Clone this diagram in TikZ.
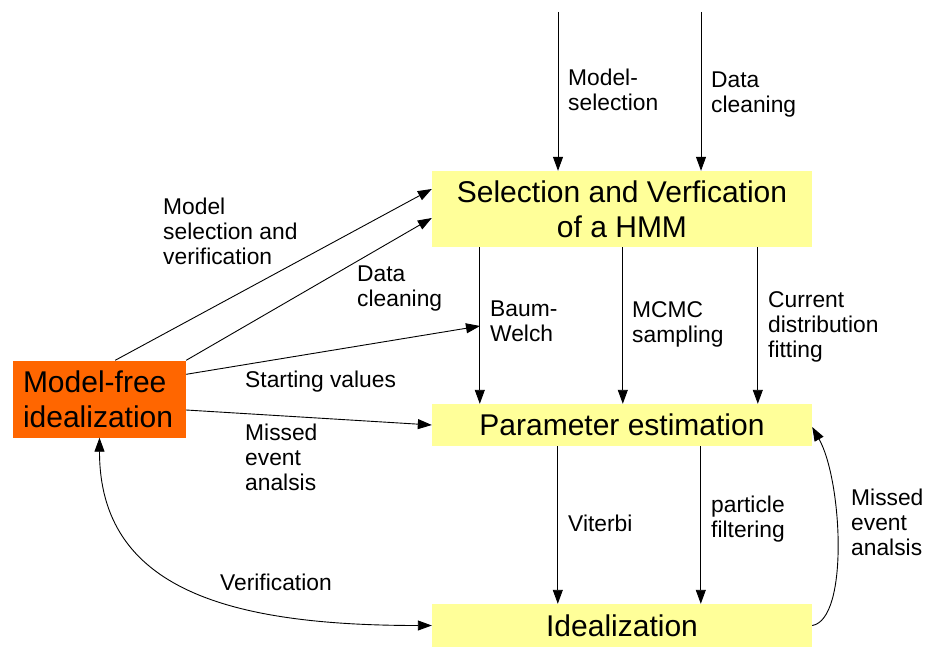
\documentclass[tikz,border=0pt]{standalone}
\usepackage{fontspec}
\setmainfont{Liberation Sans}
\usetikzlibrary{arrows.meta}

\definecolor{hmmyellow}{HTML}{FFFF99}
\definecolor{mforange}{HTML}{FF6600}

\tikzset{
  box/.style={fill=hmmyellow, minimum width=380pt, inner sep=0pt, align=center,
    font=\fontsize{30}{35}\selectfont},
  lbl/.style={anchor=north west, inner sep=0pt, align=left,
    font=\fontsize{22.8}{25}\selectfont},
  arr/.style={-{Triangle[length=14pt,width=10pt]}, line width=0.9pt},
  arrboth/.style={{Triangle[length=14pt,width=10pt]}-{Triangle[length=14pt,width=10pt]}, line width=0.9pt},
}

\begin{document}
\begin{tikzpicture}[x=1pt,y=-1pt]
  \useasboundingbox (0,0) rectangle (933,647);

  % boxes
  \node[box, minimum height=76pt] (sel) at (622,209) {Selection and Verfication\\of a HMM};
  \node[box, minimum height=42pt] (par) at (622,425) {Parameter estimation};
  \node[box, minimum height=43pt] (ide) at (622,625.5) {Idealization};
  \node[fill=mforange, minimum width=173pt, minimum height=77pt, text width=153pt,
    inner sep=0pt, align=left, font=\fontsize{30}{35}\selectfont] (mf) at (99.5,399)
    {Model-free\\idealization};

  % inputs from the top
  \coordinate (topa) at (558,12);
  \coordinate (topb) at (701,12);
  \draw[arr] (topa) -- (topa |- sel.north);
  \draw[arr] (topb) -- (topb |- sel.north);
  \node[lbl] (lmodsel) at (568,69) {Model-\\selection};
  \node[lbl] (ldatatop) at (711,72) {Data\\cleaning};

  % selection -> parameter estimation
  \foreach \dx in {48,191,326} {
    \draw[arr] ([xshift=\dx]sel.south west) -- ([xshift=\dx]par.north west);
  }
  \node[lbl] (lbaum) at (490,301) {Baum-\\Welch};
  \node[lbl] (lmcmc) at (632,301) {MCMC\\sampling};
  \node[lbl] (lcurr) at (768,291) {Current\\distribution\\fitting};

  % parameter estimation -> idealization
  \foreach \dx in {126,269} {
    \draw[arr] ([xshift=\dx]par.south west) -- ([xshift=\dx]ide.north west);
  }
  \node[lbl] (lvit) at (568,515) {Viterbi};
  \node[lbl] (lpart) at (711,496) {particle\\filtering};

  \draw[arr] (ide.east) .. controls +(37,-6) and +(30,53) .. ([yshift=-2pt]par.east);
  \node[lbl] (lmissr) at (851,489) {Missed\\event\\analsis};

  % model-free idealization
  \coordinate (sv) at (480,326);
  \draw[arr] ([xshift=-71pt]mf.north east) -- ([yshift=20pt]sel.west);
  \draw[arr] (mf.north east) -- ([yshift=-9pt]sel.west);
  \draw[arr] ([yshift=-14pt]mf.north east) -- (sv);
  \draw[arr] ([yshift=-11pt]mf.east) -- (par.west);
  \draw[arrboth] (mf.south) .. controls +(0,153) and +(-200,0) .. (ide.west);

  \node[lbl] (lmodver) at (163,198) {Model\\selection and\\verification};
  \node[lbl] (ldataleft) at (357,266) {Data\\cleaning};
  \node[lbl] (lstart) at (245,371) {Starting values};
  \node[lbl] (lmissl) at (245,424) {Missed\\event\\analsis};
  \node[lbl] (lver) at (220,574) {Verification};
\end{tikzpicture}
\end{document}
